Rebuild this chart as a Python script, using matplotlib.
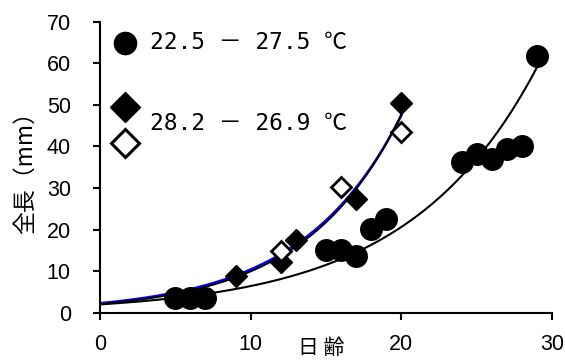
import numpy as np
import matplotlib
matplotlib.use("Agg")
import matplotlib.pyplot as plt

# --- data ---
# 22.5 - 27.5 C (filled circles)
age_a = [5, 6, 7, 15, 16, 17, 18, 19, 24, 25, 26, 27, 28, 29]
len_a = [3.5, 3.5, 3.5, 15.2, 15.2, 13.6, 20.1, 22.5, 36.2, 38.2, 37.0, 39.4, 40.2, 61.8]
# 28.2 - 26.9 C (filled diamonds)
age_b = [9, 12, 13, 17, 20]
len_b = [8.9, 12.1, 17.5, 27.4, 50.4]
# 28.2 - 26.9 C (open diamonds)
age_c = [12, 16, 20]
len_c = [14.9, 30.3, 43.4]

x_ticks = [0, 10, 20, 30]
y_ticks = [0, 10, 20, 30, 40, 50, 60, 70]

TICK_FONT = ["Liberation Sans Narrow", "Liberation Sans", "DejaVu Sans"]
JP_FONT = ["Noto Sans CJK JP", "DejaVu Sans"]
MONO_FONT = ["DejaVu Sans Mono", "Noto Sans CJK JP"]


def expfit(x, y, x_end):
    # exponential trendline (least squares on ln y), as a spreadsheet would draw it
    b, ln_a = np.polyfit(np.asarray(x, float), np.log(y), 1)
    xs = np.linspace(0, x_end, 200)
    return xs, np.exp(ln_a) * np.exp(b * xs)


fig = plt.figure(figsize=(5.65, 3.61), dpi=100)
ax = fig.add_axes([0.177, 0.1338, 0.8, 0.8062])

# trendlines
xs, ys = expfit(age_a, len_a, max(age_a))
ax.plot(xs, ys, color="black", lw=1.5, zorder=2)
xs, ys = expfit(age_b + age_c, len_b + len_c, max(age_b))
ax.plot(xs, ys, color="#0000ff", lw=1.8, zorder=2)
xs, ys = expfit(age_b, len_b, max(age_b))
ax.plot(xs, ys, color="black", lw=1.4, zorder=2)

# points
ax.plot(age_a, len_a, "o", color="black", ms=15.5, ls="none", zorder=3)
ax.plot(age_b, len_b, "D", color="black", ms=11, ls="none", zorder=3)
ax.plot(age_c, len_c, "D", mfc="white", mec="black", mew=2, ms=10.5,
        ls="none", zorder=3)

ax.set_xlim(0, 30)
ax.set_ylim(0, 70)
ax.set_xticks(x_ticks)
ax.set_yticks(y_ticks)
for lab in ax.get_xticklabels() + ax.get_yticklabels():
    lab.set_family(TICK_FONT)
    lab.set_fontsize(15.5)
for s in ["top", "right"]:
    ax.spines[s].set_visible(False)
for s in ["left", "bottom"]:
    ax.spines[s].set_linewidth(1.5)
    ax.spines[s].set_color("black")
ax.tick_params(axis="both", direction="out", length=5, width=1.5, colors="black")
ax.tick_params(axis="y", pad=16)
ax.tick_params(axis="x", pad=10)

ax.set_ylabel("全長（mm）", family=JP_FONT, fontsize=16.5, va="center")
ax.yaxis.set_label_coords(-0.166, 0.5)
ax.set_xlabel("日 齢", family=JP_FONT, fontsize=15, va="center")
ax.xaxis.set_label_coords(0.49, -0.123)

# legend keys drawn by hand (Excel-style text boxes)
tr = ax.transAxes
ax.plot([0.055], [0.927], "o", color="black", ms=16, transform=tr, clip_on=False)
ax.plot([0.055], [0.708], "D", color="black", ms=15, transform=tr, clip_on=False)
ax.plot([0.055], [0.582], "D", mfc="white", mec="black", mew=2.2, ms=14,
        transform=tr, clip_on=False)
ax.text(0.111, 0.927, "22.5 － 27.5 ℃", transform=tr, family=MONO_FONT,
        fontsize=16.5, va="center", ha="left")
ax.text(0.111, 0.651, "28.2 － 26.9 ℃", transform=tr, family=MONO_FONT,
        fontsize=16.5, va="center", ha="left")

fig.savefig("out.png", dpi=100)
